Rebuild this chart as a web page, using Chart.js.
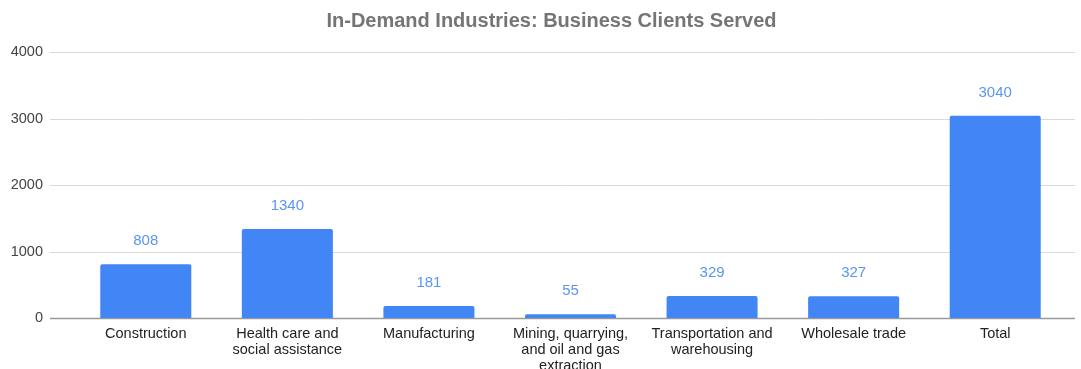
<!DOCTYPE html>
<html>
<head>
<meta charset="utf-8">
<script src="https://cdn.jsdelivr.net/npm/chart.js@4/dist/chart.umd.min.js"></script>
<style>
  html, body { margin: 0; padding: 0; background: #fff; }
  #wrap { width: 1081px; height: 369px; }
</style>
</head>
<body>
<div id="wrap"><canvas id="myChart"></canvas></div>
<script>
const chartTitle = 'In-Demand Industries: Business Clients Served';
const industries = [
    'Construction',
    ['Health care and', 'social assistance'],
    'Manufacturing',
    ['Mining, quarrying,', 'and oil and gas', 'extraction'],
    ['Transportation and', 'warehousing'],
    'Wholesale trade',
    'Total'
];
const clientsServed = [808, 1340, 181, 55, 329, 327, 3040];
const yMax = 4000;
const yStep = 1000;

const barColor = '#4285f4';
const labelColor = '#5a95f5';
const fontFamily = 'Arial, "Liberation Sans", sans-serif';

// gridlines run a little past the bars on both sides
const gridLines = {
    id: 'gridLines',
    beforeDatasetsDraw(chart) {
        const { ctx, chartArea, scales } = chart;
        const x0 = chartArea.left - 25;
        const x1 = chartArea.right + 9;
        ctx.save();
        scales.y.ticks.forEach(t => {
            const y = Math.round(scales.y.getPixelForValue(t.value)) + 0.5;
            ctx.beginPath();
            ctx.strokeStyle = t.value === 0 ? '#9a9a9a' : '#d9d9d9';
            ctx.lineWidth = t.value === 0 ? 1.6 : 1;
            ctx.moveTo(x0, y);
            ctx.lineTo(x1, y);
            ctx.stroke();
        });
        ctx.restore();
    }
};

// value printed above each bar, plus the title (sits a bit left of the plot centre)
const valueLabels = {
    id: 'valueLabels',
    afterDatasetsDraw(chart) {
        const { ctx, chartArea } = chart;
        const meta = chart.getDatasetMeta(0);
        ctx.save();
        ctx.font = '15px ' + fontFamily;
        ctx.fillStyle = labelColor;
        ctx.textAlign = 'center';
        ctx.textBaseline = 'middle';
        meta.data.forEach((bar, i) => {
            ctx.fillText(String(clientsServed[i]), bar.x, bar.y - 23);
        });

        ctx.font = 'bold 20px ' + fontFamily;
        ctx.fillStyle = '#757575';
        ctx.fillText(chartTitle, (chartArea.left + chartArea.right) / 2 - 19, 21);
        ctx.restore();
    }
};

const ctx = document.getElementById('myChart').getContext('2d');
const myChart = new Chart(ctx, {
    type: 'bar',
    data: {
        labels: industries,
        datasets: [{
            label: 'Business Clients Served',
            data: clientsServed,
            backgroundColor: barColor,
            borderRadius: 2,
            borderSkipped: 'bottom',
            barPercentage: 1,
            categoryPercentage: 0.643
        }]
    },
    options: {
        responsive: true,
        maintainAspectRatio: false,
        animation: false,
        layout: {
            padding: { left: 0, right: 15, top: 52, bottom: 0 }
        },
        plugins: {
            legend: { display: false },
            tooltip: { enabled: false },
            title: { display: false }
        },
        scales: {
            x: {
                grid: { display: false },
                border: { display: false },
                ticks: {
                    color: '#222',
                    autoSkip: false,
                    maxRotation: 0,
                    padding: 0,
                    font: { family: fontFamily, size: 14.5, lineHeight: 1.1 }
                },
                afterFit(scale) { scale.height = 51; }
            },
            y: {
                min: 0,
                max: yMax,
                grid: { display: false, drawTicks: false },
                border: { display: false },
                ticks: {
                    stepSize: yStep,
                    color: '#444',
                    padding: 32,
                    font: { family: fontFamily, size: 14.5 },
                    callback: v => String(v)
                },
                afterFit(scale) { scale.width = 75; }
            }
        }
    },
    plugins: [gridLines, valueLabels]
});
</script>
</body>
</html>
